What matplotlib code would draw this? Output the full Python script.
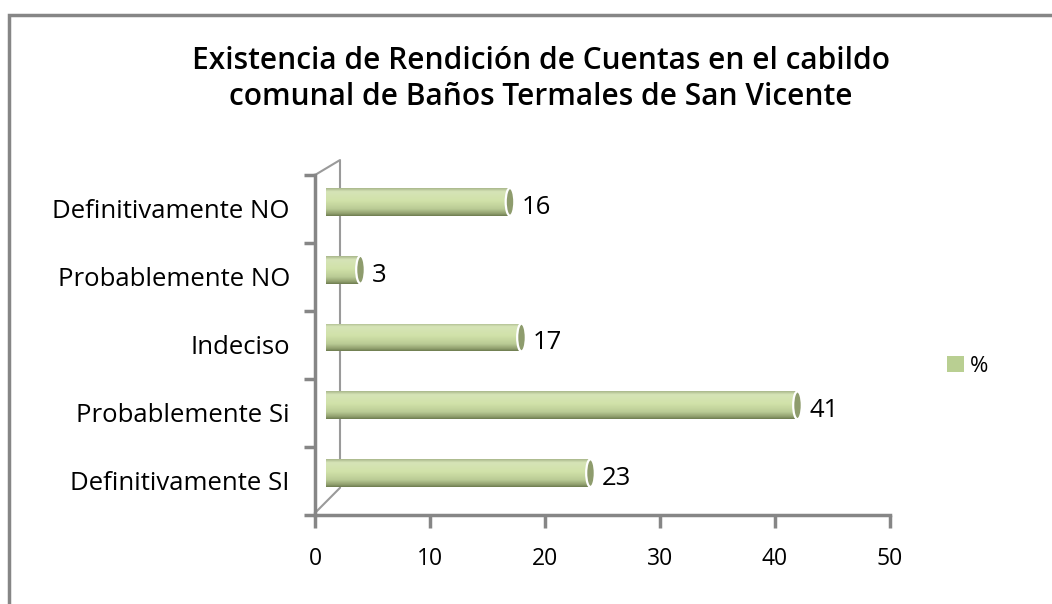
import matplotlib
matplotlib.use("Agg")
import matplotlib.pyplot as plt
import numpy as np
from matplotlib.patches import Ellipse, Rectangle
from matplotlib.colors import LinearSegmentedColormap

# ---- data ----
categories = ["Definitivamente SI", "Probablemente Si", "Indeciso",
              "Probablemente NO", "Definitivamente NO"]
values = [23, 41, 17, 3, 16]
series_name = "%"
x_ticks = [0, 10, 20, 30, 40, 50]
title = "Existencia de Rendición de Cuentas en el cabildo\ncomunal de Baños Termales de San Vicente"

W, H = 1052, 604
fig = plt.figure(figsize=(W / 100, H / 100), dpi=100)
plt.rcParams['font.family'] = ['Open Sans', 'DejaVu Sans']

def fx(px):
    return px / W

def fy(py):
    return 1 - py / H

# outer border (left and top visible, extending beyond right/bottom)
fig.patches.append(Rectangle((fx(9.5), fy(700)), fx(1200), fy(15) - fy(700),
                             transform=fig.transFigure, fill=False,
                             edgecolor="#868686", linewidth=2.5))

fig.text(fx(541), fy(79), title, ha="center", va="center", fontsize=21.5,
         fontweight="semibold", linespacing=1.28, color="black")

# ---- front axis (ticks, labels) ----
ax2 = fig.add_axes([fx(315), fy(515), fx(890) - fx(315), fy(175) - fy(515)])
ax2.set_xlim(0, 50)
ax2.set_ylim(0, 5)
ax2.patch.set_visible(False)
for s in ["top", "right"]:
    ax2.spines[s].set_visible(False)
for s in ["left", "bottom"]:
    ax2.spines[s].set_color("#868686")
    ax2.spines[s].set_linewidth(2.5)
ax2.set_xticks(x_ticks)
ax2.set_xticklabels([str(t) for t in x_ticks], fontsize=16.5)
ax2.tick_params(axis="x", direction="out", length=9, width=2.5, color="#868686",
                pad=14)
ax2.set_yticks(np.arange(0, 6))
ax2.set_yticklabels([])
ax2.tick_params(axis="y", which="major", direction="out", length=8, width=2.5,
                color="#868686")
ax2.set_yticks(np.arange(len(categories)) + 0.5, minor=True)
ax2.set_yticklabels(categories, minor=True, fontsize=18.5)
ax2.tick_params(axis="y", which="minor", length=0, pad=18)
# back wall outline (3D depth)
dx = (340 - 315) / 11.5
ax2.plot([0, dx, dx, 0], [5, 5.22, 0.4, 0.03], color="#9a9a9a", lw=1.5,
         clip_on=False, zorder=1)

# ---- bars axis (back plane) ----
ax = fig.add_axes([fx(326), fy(507), fx(901) - fx(326), fy(168) - fy(507)])
ax.set_xlim(0, 50)
ax.set_ylim(-0.5, len(categories) - 0.5)
ax.axis("off")

cmap = LinearSegmentedColormap.from_list(
    "cyl", [(0.0, "#aab88c"), (0.12, "#d6e4b7"), (0.45, "#d1e2a9"),
            (0.75, "#bacb95"), (0.92, "#909f6e"), (1.0, "#6f7d50")])
grad = np.linspace(0, 1, 64).reshape(-1, 1)

bh = 0.41
bars = ax.barh(np.arange(len(categories)), values, height=bh,
               color="#b9cf92", label=series_name, zorder=2)
for i, (b, v) in enumerate(zip(bars, values)):
    im = ax.imshow(grad, cmap=cmap, aspect="auto", origin="upper",
                   extent=[0, v, i - bh / 2, i + bh / 2], zorder=3)
    im.set_clip_path(b)
    ax.add_patch(Ellipse((v, i), 0.75, bh, facecolor="#8e9c6d",
                         edgecolor="white", linewidth=1.6, zorder=4))
    ax.text(v + 1.0, i - 0.08, str(v), ha="left", va="center", fontsize=18.5,
            color="black", zorder=5)
ax.set_xlim(0, 50)
ax.set_ylim(-0.5, len(categories) - 0.5)

leg = ax.legend(handles=[bars], labels=[series_name], loc="center left",
                bbox_to_anchor=(fx(947), fy(366)), bbox_transform=fig.transFigure,
                frameon=False, fontsize=16, handlelength=0.75, handleheight=0.75,
                handletextpad=0.3, borderpad=0, borderaxespad=0)

fig.savefig("out.png", dpi=100)
